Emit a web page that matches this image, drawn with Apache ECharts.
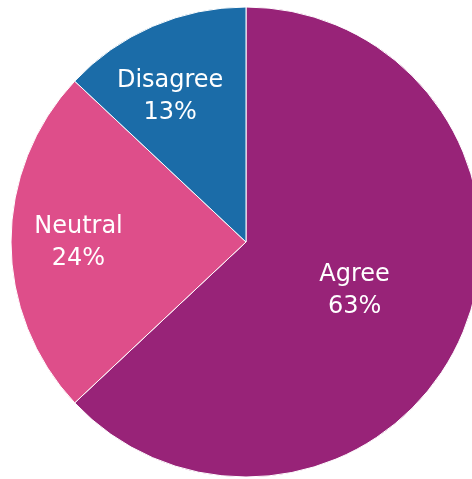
<!DOCTYPE html>
<html>
<head>
<meta charset="utf-8">
<script src="https://cdn.jsdelivr.net/npm/echarts@6/dist/echarts.min.js"></script>
<style>
  html, body { margin: 0; padding: 0; background: #fff; }
  #chart { width: 472px; height: 479px; }
</style>
</head>
<body>
<div id="chart"></div>
<script>
// data
var categories = ['Agree', 'Neutral', 'Disagree']
var values = [63, 24, 13]
var colors = ['#982378', '#DE4E8A', '#1B6CA8']
// nudges for labels that sit further out than the slice middle
var labelOffsets = [[-2, 1], [-47, 1], [-28, -35]]

var chart = echarts.init(document.getElementById('chart'))

var seriesData = categories.map(function (name, i) {
  return {
    name: name,
    value: values[i],
    itemStyle: { color: colors[i] },
    label: { offset: labelOffsets[i] }
  }
})

chart.setOption({
  animation: false,
  series: [
    {
      type: 'pie',
      center: [246, 242],
      radius: [0, 235],
      startAngle: 90,
      clockwise: true,
      data: seriesData,
      itemStyle: {
        borderColor: '#ffffff',
        borderWidth: 1
      },
      label: {
        show: true,
        position: 'inside',
        color: '#ffffff',
        fontFamily: 'DejaVu Sans',
        fontSize: 24,
        lineHeight: 32,
        formatter: function (p) {
          return p.name + '\n' + p.value + '%'
        }
      },
      labelLine: { show: false },
      emphasis: { disabled: true }
    }
  ]
})
</script>
</body>
</html>
